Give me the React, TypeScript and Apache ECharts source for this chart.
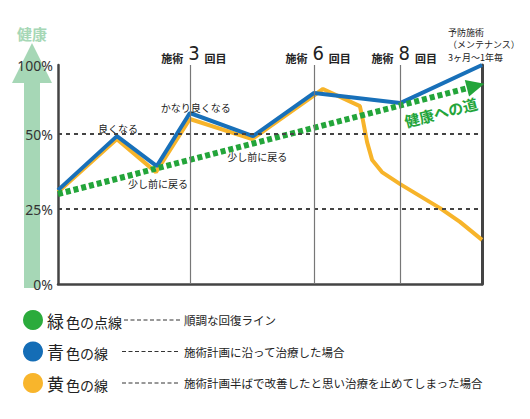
import React, { useEffect, useRef } from "react";
import * as echarts from "echarts";

// x: treatment progress (0..10), y: health scale (0..73 top = "100%")
const X_MAX = 10;
const Y_TOP = 73;

const blueX = [0, 1.39, 2.33, 3.11, 4.6, 6.04, 8.07, 10];
const blueY = [31.3, 49.3, 39.3, 57, 49.3, 63.7, 60.3, 73];

const yellowX = [0, 1.39, 2.31, 3.11, 4.58, 6.25, 7.12, 7.19, 7.29, 7.41, 7.64, 8.07, 8.54, 9.01, 9.48, 10];
const yellowY = [30.7, 48.3, 37.3, 55, 48.3, 65, 59.3, 54.7, 47.3, 41.3, 37.3, 33.3, 29.3, 25.3, 20.7, 14.7];

const greenX = [0, 9.85];
const greenY = [30, 66];

const treatmentX = [3.11, 6.04, 8.07];
const treatmentNo = ["3", "6", "8"];
const gridY = [25, 50];

const blueNotes: Record<number, string> = { 1: "良くなる", 3: "かなり良くなる" };
const yellowNotes: Record<number, string> = { 2: "少し前に戻る", 4: "少し前に戻る" };

const roadLabel = "健康への道";
const roadPos = [9.03, 57.3];

const legendRows = [
  { head: "緑", rest: "色の点線", desc: "順調な回復ライン", color: "#2bab3c" },
  { head: "青", rest: "色の線", desc: "施術計画に沿って治療した場合", color: "#146db6" },
  { head: "黄", rest: "色の線", desc: "施術計画半ばで改善したと思い治療を止めてしまった場合", color: "#f8b52c" },
];

const maintenanceText = ["予防施術", "（メンテナンス）", "3ヶ月〜1年毎"];

const JP = '"Noto Sans CJK JP", "Noto Sans", sans-serif';
const BLUE = "#1870b9";
const YELLOW = "#f7b42a";
const GREEN = "#23a53a";
const PALE = "#a6d7b6";

export default function App() {
  const ref = useRef<HTMLDivElement>(null);
  useEffect(() => {
    if (!ref.current) return;
    const chart = echarts.init(ref.current, null, { renderer: "svg" });

    const noteLabel = (text: string, position: string, distance: number, offset: number[]) => ({
      show: true,
      formatter: text,
      position,
      distance,
      offset,
      fontSize: 10,
      color: "#222",
      fontFamily: JP,
    });

    const blueData = blueX.map((x, i) => {
      const d: any = { value: [x, blueY[i]] };
      if (blueNotes[i]) {
        d.label = noteLabel(blueNotes[i], "top", i === 3 ? 1 : 3, i === 3 ? [6, 0] : [1, 0]);
      }
      return d;
    });
    const yellowData = yellowX.map((x, i) => {
      const d: any = { value: [x, yellowY[i]] };
      if (yellowNotes[i]) {
        d.label = noteLabel(yellowNotes[i], "bottom", i === 2 ? 6 : 12, i === 2 ? [2, 0] : [5, 0]);
      }
      return d;
    });
    const greenData = greenX.map((x, i) => ({
      value: [x, greenY[i]],
      symbol: i === greenX.length - 1 ? "triangle" : "none",
      symbolSize: i === greenX.length - 1 ? [17, 18] : 0,
      symbolRotate: -75.5,
      itemStyle: { color: GREEN },
    }));

    const legendGraphics: any[] = [];
    legendRows.forEach((r, i) => {
      const cy = 320 + i * 31.5;
      legendGraphics.push({
        type: "circle",
        shape: { cx: 33, cy, r: 10 },
        style: { fill: r.color },
      });
      legendGraphics.push({
        type: "text",
        x: 47,
        y: cy,
        style: {
          text: `{a|${r.head}}{b|${r.rest}}`,
          verticalAlign: "middle",
          rich: {
            a: { fontSize: 17, fontFamily: JP, fill: "#222", verticalAlign: "bottom" },
            b: { fontSize: 14, fontFamily: JP, fill: "#222", verticalAlign: "bottom", padding: [0, 0, 0, 2] },
          },
        },
      });
      legendGraphics.push({
        type: "line",
        shape: { x1: i === 0 ? 124 : 122, y1: cy, x2: 180, y2: cy },
        style: { stroke: "#333", lineWidth: 1, lineDash: [4, 2.5] },
      });
      legendGraphics.push({
        type: "text",
        x: 184,
        y: cy,
        style: {
          text: r.desc,
          fontSize: 11.5,
          fontFamily: JP,
          fill: "#222",
          verticalAlign: "middle",
        },
      });
    });

    const option: any = {
      animation: false,
      backgroundColor: "#fff",
      grid: { left: 58, right: 48, top: 65, bottom: 135, containLabel: false },
      xAxis: {
        type: "value",
        min: 0,
        max: X_MAX,
        axisLine: { show: true, onZero: false, lineStyle: { color: "#444", width: 2.5 } },
        axisTick: { show: false },
        axisLabel: { show: false },
        splitLine: { show: false },
      },
      yAxis: [
        {
          type: "value",
          min: 0,
          max: Y_TOP,
          interval: 25,
          axisLine: { show: true, onZero: false, lineStyle: { color: "#444", width: 2.5 } },
          axisTick: { show: false },
          splitLine: { show: false },
          axisLabel: {
            show: true,
            showMaxLabel: true,
            margin: 5,
            fontSize: 14,
            color: "#333",
            fontFamily: '"Noto Sans", sans-serif',
            formatter: (v: number) => (v >= Y_TOP ? "100%" : `${v}%`),
          },
        },
        {
          type: "value",
          min: 0,
          max: Y_TOP,
          position: "right",
          axisLine: { show: true, onZero: false, lineStyle: { color: "#444", width: 3 } },
          axisTick: { show: false },
          axisLabel: { show: false },
          splitLine: { show: false },
        },
      ],
      series: [
        {
          type: "line",
          data: yellowData,
          showSymbol: true,
          symbol: "circle",
          symbolSize: 0.01,
          lineStyle: { color: YELLOW, width: 4 },
          itemStyle: { color: YELLOW },
          z: 2,
          silent: true,
          markLine: {
            silent: true,
            symbol: "none",
            data: [
              ...gridY.map((y) => ({
                yAxis: y,
                lineStyle: { color: "#444", width: 2, type: [4, 4] },
                label: { show: false },
              })),
              ...treatmentX.map((x, i) => ({
                xAxis: x,
                lineStyle: { color: "#777", width: 1.2, type: "solid" },
                label: {
                  show: true,
                  position: "end",
                  distance: 2,
                  offset: [4, 0],
                  formatter: `{a|施術}{b|${treatmentNo[i]}}{a|回目}`,
                  rich: {
                    a: { fontSize: 11, fontWeight: "bold", fontFamily: JP, color: "#222", verticalAlign: "bottom" },
                    b: {
                      fontSize: 20,
                      fontFamily: '"Liberation Sans Narrow", "DejaVu Sans Condensed", sans-serif',
                      color: "#222",
                      padding: [0, 5, 0, 5],
                      verticalAlign: "bottom",
                    },
                  },
                },
              })),
            ],
          },
        },
        {
          type: "line",
          data: blueData,
          symbol: "circle",
          symbolSize: 0.01,
          showSymbol: true,
          lineStyle: { color: BLUE, width: 4 },
          itemStyle: { color: BLUE },
          z: 3,
          silent: true,
        },
        {
          type: "line",
          data: greenData,
          clip: false,
          lineStyle: { color: GREEN, width: 6, type: [5, 3] },
          itemStyle: { color: GREEN },
          z: 4,
          silent: true,
          markPoint: {
            silent: true,
            symbol: "circle",
            symbolSize: 0,
            data: [
              {
                coord: roadPos,
                label: {
                  show: true,
                  formatter: roadLabel,
                  position: "inside",
                  rotate: 14.5,
                  fontSize: 15,
                  fontWeight: "bold",
                  color: GREEN,
                  fontFamily: JP,
                },
              },
            ],
          },
        },
      ],
      graphic: [
        {
          type: "polygon",
          shape: {
            points: [
              [32, 43],
              [52, 83],
              [40, 83],
              [40, 288],
              [24, 288],
              [24, 83],
              [12, 83],
            ],
          },
          style: { fill: PALE },
          z: -1,
        },
        {
          type: "text",
          x: 32,
          y: 33,
          style: {
            text: "健康",
            fontSize: 15,
            fontWeight: "bold",
            fontFamily: JP,
            fill: PALE,
            align: "center",
            verticalAlign: "middle",
          },
        },
        ...maintenanceText.map((t, i) => ({
          type: "text",
          x: 448,
          y: 32 + i * 12.5,
          style: {
            text: t,
            fontSize: 9,
            fontFamily: JP,
            fill: "#222",
            align: "left",
            verticalAlign: "middle",
          },
        })),
        ...legendGraphics,
      ],
    };
    chart.setOption(option);
    return () => chart.dispose();
  }, []);
  return <div ref={ref} style={{ width: 530, height: 419, margin: -8 }} />;
}
